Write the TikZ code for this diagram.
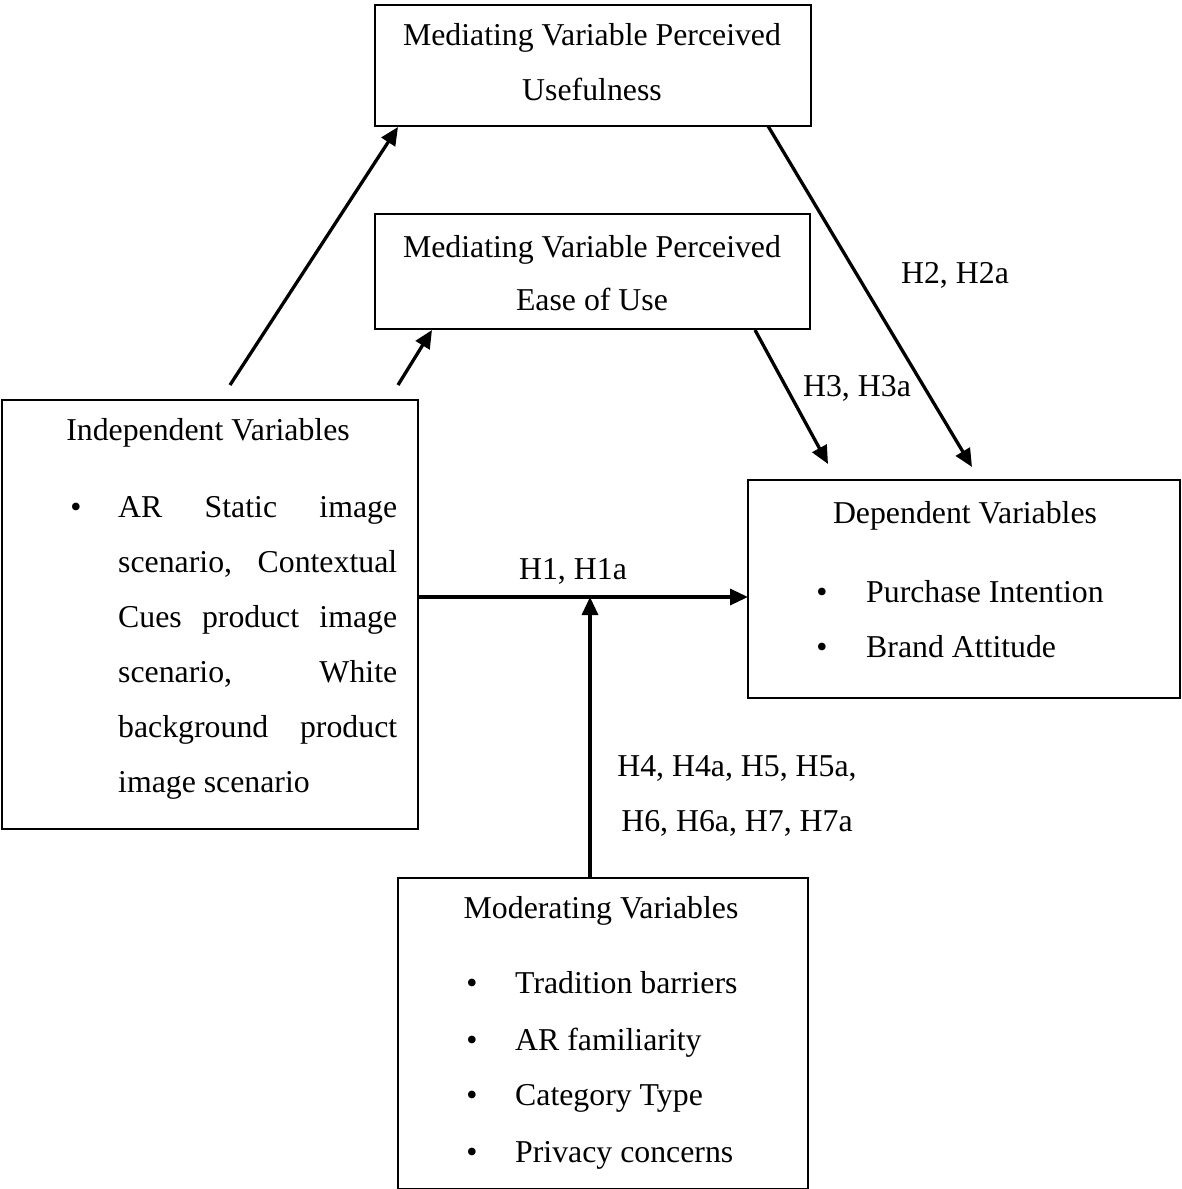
\documentclass[tikz,border=0pt]{standalone}
\usepackage{fontspec}
\setmainfont{Liberation Serif}
\usetikzlibrary{arrows.meta}
\begin{document}
\begin{tikzpicture}[x=1pt,y=-1pt,
  box/.style={draw,line width=2.2pt,rectangle,inner sep=0pt,anchor=north west},
  txt/.style={inner sep=0pt,anchor=base,font=\fontsize{31.8}{55}\selectfont},
  ltxt/.style={inner sep=0pt,anchor=base west,font=\fontsize{31.8}{55}\selectfont},
  conn/.style={line width=3.3pt,-{Triangle[length=18pt,width=16pt]}}]
\useasboundingbox (0,0) rectangle (1181,1189);
% boxes
\node[box,minimum width=436pt,minimum height=121pt] (pu) at (374,4) {};
\node[box,minimum width=435pt,minimum height=115pt] (peou) at (374,213) {};
\node[box,minimum width=416pt,minimum height=429pt] (iv) at (1,399) {};
\node[box,minimum width=432pt,minimum height=218pt] (dv) at (747,479) {};
\node[box,minimum width=410pt,minimum height=311pt] (mv) at (397,877) {};
% box texts
\node[txt] (pu1) at (592,45) {Mediating Variable Perceived};
\node[txt] (pu2) at (592,100) {Usefulness};
\node[txt] (pe1) at (592,257) {Mediating Variable Perceived};
\node[txt] (pe2) at (592,310) {Ease of Use};
\node[txt] (ivt) at (208,440) {Independent Variables};
\node[txt] (ivb) at (76,517) {\textbullet};
\node[ltxt] (iv1) at (118,517) {\makebox[279pt][s]{AR Static image}};
\node[ltxt] (iv2) at (118,572) {\makebox[279pt][s]{scenario, Contextual}};
\node[ltxt] (iv3) at (118,627) {\makebox[279pt][s]{Cues product image}};
\node[ltxt] (iv4) at (118,682) {\makebox[279pt][s]{scenario, White}};
\node[ltxt] (iv5) at (118,737) {\makebox[279pt][s]{background product}};
\node[ltxt] (iv6) at (118,792) {image scenario};
\node[txt] (dvt) at (965,523) {Dependent Variables};
\node[txt] (dvb1) at (822,602) {\textbullet};
\node[ltxt] (dv1) at (866,602) {Purchase Intention};
\node[txt] (dvb2) at (822,657) {\textbullet};
\node[ltxt] (dv2) at (866,657) {Brand Attitude};
\node[txt] (mvt) at (601,918) {Moderating Variables};
\node[txt] (mvb1) at (472,993) {\textbullet};
\node[ltxt] (mv1) at (515,993) {Tradition barriers};
\node[txt] (mvb2) at (472,1050) {\textbullet};
\node[ltxt] (mv2) at (515,1050) {AR familiarity};
\node[txt] (mvb3) at (472,1105) {\textbullet};
\node[ltxt] (mv3) at (515,1105) {Category Type};
\node[txt] (mvb4) at (472,1162) {\textbullet};
\node[ltxt] (mv4) at (515,1162) {Privacy concerns};
% labels
\node[txt] (h2) at (955,283) {H2, H2a};
\node[txt] (h3) at (857,396) {H3, H3a};
\node[txt] (h1) at (573,579) {H1, H1a};
\node[txt] (h4) at (737,776) {H4, H4a, H5, H5a,};
\node[txt] (h6) at (737,831) {H6, H6a, H7, H7a};
% connector end points
\coordinate (s1) at (230,385);
\coordinate (e1) at (398,127);
\coordinate (s2) at (398,385);
\coordinate (e2) at (432,330);
\coordinate (s3) at (768,126);
\coordinate (e3) at (972,467);
\coordinate (s4) at (755,330);
\coordinate (e4) at (828,464);
\coordinate (s5) at (418,597);
\coordinate (e5) at (748,597);
\coordinate (s6) at (590,877);
\coordinate (e6) at (590,597);
\draw[conn] (s1) -- (e1);
\draw[conn] (s2) -- (e2);
\draw[conn] (s3) -- (e3);
\draw[conn] (s4) -- (e4);
\draw[conn] (s5) -- (e5);
\draw[conn] (s6) -- (e6);
\end{tikzpicture}
\end{document}
